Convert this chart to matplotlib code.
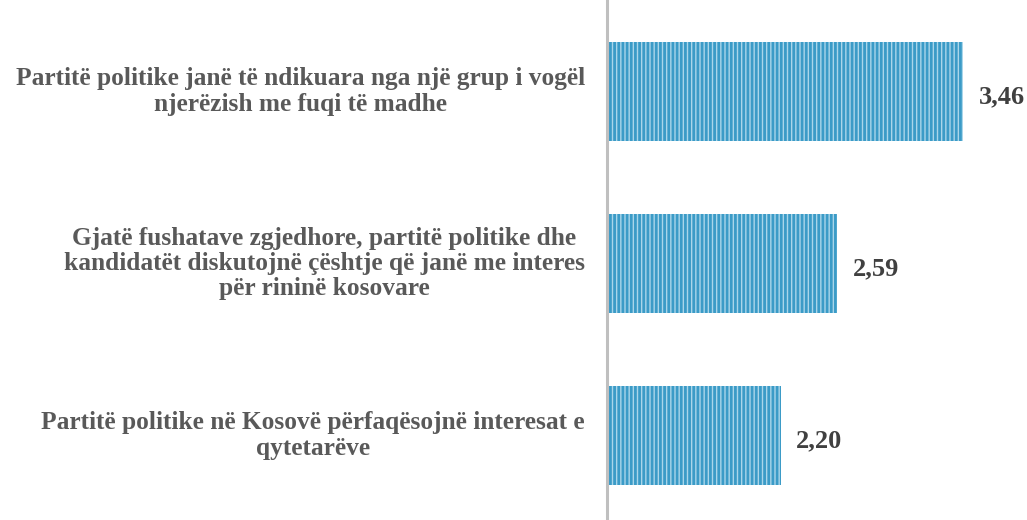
import numpy as np
import matplotlib
matplotlib.use('Agg')
import matplotlib.pyplot as plt

labels = ['Partitë politike janë të ndikuara nga një grup i vogël\nnjerëzish me fuqi të madhe',
          'Gjatë fushatave zgjedhore, partitë politike dhe\nkandidatët diskutojnë çështje që janë me interes\npër rininë kosovare',
          'Partitë politike në Kosovë përfaqësojnë interesat e\nqytetarëve']
values = [3.46, 2.59, 2.20]
value_text = ['3,46', '2,59', '2,20']

plt.rcParams['font.family'] = ['Liberation Serif', 'DejaVu Serif']
plt.rcParams['hatch.linewidth'] = 2.0

fig = plt.figure(figsize=(10.27, 5.2), dpi=100)
ax = fig.add_axes([607/1027, 0, 420/1027, 1])

y = np.arange(len(values))
ax.barh(y, np.array(values) - 1, left=1, height=0.576, color='#aad6ea',
        edgecolor='#3b9bc7', hatch='||||', linewidth=0)

ax.set_xlim(1, 1 + 420/144.8)
ax.set_ylim(2 + 84.5/172, -91.5/172)

# value labels sit a little below the bar centre
for v, t, yy in zip(values, value_text, y):
    ax.annotate(t, (v, yy), xytext=(11, -4), textcoords='offset points',
                ha='left', va='center', fontsize=19, fontweight='bold', color='#404040')

for lab, yy in zip(labels, y):
    ax.annotate(lab, (0, yy), xycoords=('axes fraction', 'data'), xytext=(-16, 0),
                textcoords='offset points', ha='right', va='center', multialignment='center',
                fontsize=18.3, fontweight='bold', color='#595959', linespacing=1.12)

for s in ['top', 'right', 'bottom']:
    ax.spines[s].set_visible(False)
ax.spines['left'].set_color('#bfbfbf')
ax.spines['left'].set_linewidth(2.2)
ax.set_xticks([])
ax.set_yticks([])

fig.savefig('out.png', dpi=100)
